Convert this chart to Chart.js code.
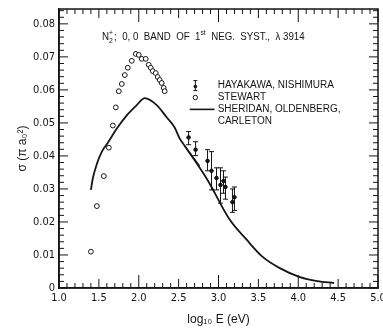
<!DOCTYPE html>
<html>
<head>
<meta charset="utf-8">
<script src="https://cdn.jsdelivr.net/npm/chart.js@4/dist/chart.umd.min.js"></script>
<style>
  html, body { margin: 0; padding: 0; background: #fff; }
  #wrap { width: 383px; height: 334px; }
</style>
</head>
<body>
<div id="wrap"><canvas id="chart" width="383" height="334"></canvas></div>
<script>
// tick labels
const xTickLabels = ["1.0", "1.5", "2.0", "2.5", "3.0", "3.5", "4.0", "4.5", "5.0"];
const yTickLabels = ["0", "0.01", "0.02", "0.03", "0.04", "0.05", "0.06", "0.07", "0.08"];

// Stewart (open circles)
const stewartX = [1.40, 1.475, 1.5625, 1.625, 1.675, 1.7125, 1.75, 1.7875, 1.825, 1.8625, 1.9125, 1.9625,
  2.00, 2.0375, 2.0875, 2.125, 2.15, 2.175, 2.2125, 2.2375, 2.2625, 2.2875, 2.3125, 2.325];
const stewartY = [0.0110, 0.0248, 0.0339, 0.0425, 0.0492, 0.0547, 0.0596, 0.0618, 0.0645, 0.0667, 0.0688, 0.0709,
  0.0706, 0.0694, 0.0694, 0.0676, 0.0667, 0.0657, 0.0651, 0.0639, 0.0630, 0.0621, 0.0606, 0.0596];

// Sheridan, Oldenberg, Carleton (solid curve)
const sheridanX = [1.40, 1.425, 1.475, 1.5375, 1.6125, 1.725, 1.85, 1.975, 2.075, 2.225, 2.35, 2.45, 2.5125,
  2.575, 2.8625, 3.1375, 3.35, 3.55, 3.7625, 4.0125, 4.2375, 4.45];
const sheridanY = [0.0297, 0.0333, 0.0376, 0.0413, 0.0440, 0.0483, 0.0523, 0.0554, 0.0575, 0.0554, 0.0517, 0.0486, 0.0453,
  0.0431, 0.0327, 0.0208, 0.0147, 0.0095, 0.0061, 0.0034, 0.0021, 0.0015];
// short side branch of the same curve
const branchX = [2.575, 2.7625];
const branchY = [0.0431, 0.0370];

// Hayakawa, Nishimura (points with error bars)
const hayX = [2.625, 2.7125, 2.8625, 2.9125, 2.975, 3.025, 3.0625, 3.0875, 3.175, 3.20];
const hayY = [0.0456, 0.0419, 0.0385, 0.0355, 0.0333, 0.0312, 0.0324, 0.0306, 0.0260, 0.0275];
const hayHi = [0.0474, 0.0443, 0.0419, 0.0413, 0.0364, 0.0364, 0.0355, 0.0336, 0.0300, 0.0306];
const hayLo = [0.0434, 0.0401, 0.0355, 0.0297, 0.0297, 0.0257, 0.0287, 0.0269, 0.0229, 0.0235];

const pts = (xs, ys) => xs.map((v, i) => ({ x: v, y: ys[i] }));
const INK = "#151515";
const TEXT_FONT = "Liberation Sans, Arial, sans-serif";
const TICK_FONT = "'Liberation Sans Narrow', 'DejaVu Sans Condensed', sans-serif";

// draws the inward tick marks, frame, error bars, title and legend
const decor = {
  id: "decor",
  afterDatasetsDraw(chart) {
    const { ctx, chartArea: a, scales: { x, y } } = chart;
    const seg = (x1, y1, x2, y2) => { ctx.beginPath(); ctx.moveTo(x1, y1); ctx.lineTo(x2, y2); ctx.stroke(); };
    ctx.save();
    ctx.strokeStyle = INK;

    // error bars
    ctx.lineWidth = 1;
    hayX.forEach((v, i) => {
      const px = x.getPixelForValue(v);
      const t = y.getPixelForValue(hayHi[i]);
      const b = y.getPixelForValue(hayLo[i]);
      seg(px, t, px, b);
      seg(px - 2.5, t, px + 2.5, t);
      seg(px - 2.5, b, px + 2.5, b);
    });

    // frame
    ctx.lineWidth = 1.5;
    ctx.strokeRect(a.left, a.top, a.right - a.left, a.bottom - a.top);

    // x ticks, bottom and top, pointing inward
    ctx.lineWidth = 1;
    for (let i = 10; i <= 50; i++) {
      const px = x.getPixelForValue(i / 10);
      const len = i % 10 === 0 ? 13 : (i % 5 === 0 ? 9 : 5);
      seg(px, a.bottom, px, a.bottom - len);
      seg(px, a.top, px, a.top + len);
    }
    // y ticks, left and right
    for (let i = 0; i <= 42; i++) {
      const py = y.getPixelForValue(i * 0.002);
      const len = i % 5 === 0 ? 9 : 5;
      seg(a.left, py, a.left + len, py);
      seg(a.right, py, a.right - len, py);
    }

    // title inside the plot
    ctx.fillStyle = INK;
    ctx.textBaseline = "alphabetic";
    const ty = y.getPixelForValue(0.0762) + 4;
    const tx0 = x.getPixelForValue(1.54);
    const tx1 = x.getPixelForValue(4.08);
    const big = "10px " + TEXT_FONT, small = "7px " + TEXT_FONT;
    const parts = [
      { t: "N", f: big, dy: 0 },
      { t: "+", f: small, dy: -5, stack: "2" },
      { t: ";  0, 0  BAND  OF  1", f: big, dy: 0 },
      { t: "st", f: small, dy: -5 },
      { t: "  NEG.  SYST.,  \u03bb 3914", f: big, dy: 0 }
    ];
    let w = 0;
    parts.forEach(p => { ctx.font = p.f; p.w = ctx.measureText(p.t).width + (p.stack ? 1 : 0); w += p.w; });
    const sx = (tx1 - tx0) / w;
    ctx.save();
    ctx.translate(tx0, ty);
    ctx.scale(sx, 1);
    let cx = 0;
    parts.forEach(p => {
      ctx.font = p.f;
      ctx.fillText(p.t, cx, p.dy);
      if (p.stack) ctx.fillText(p.stack, cx, 3);
      cx += p.w;
    });
    ctx.restore();

    // legend
    ctx.font = "10px " + TEXT_FONT;
    ctx.textBaseline = "middle";
    const sxp = x.getPixelForValue(2.71);
    const txp = x.getPixelForValue(2.99);
    const rows = [0.0613, 0.0577, 0.0541, 0.0505].map(v => y.getPixelForValue(v));
    // error bar symbol
    seg(sxp, rows[0] - 5, sxp, rows[0] + 5);
    seg(sxp - 2, rows[0] - 5, sxp + 2, rows[0] - 5);
    seg(sxp - 2, rows[0] + 5, sxp + 2, rows[0] + 5);
    ctx.beginPath(); ctx.arc(sxp, rows[0] + 1, 1.8, 0, Math.PI * 2); ctx.fill();
    ctx.fillText("HAYAKAWA, NISHIMURA", txp, rows[0]);
    // circle symbol
    ctx.beginPath(); ctx.arc(sxp, rows[1], 2.2, 0, Math.PI * 2); ctx.stroke();
    ctx.fillText("STEWART", txp, rows[1]);
    // line symbol
    ctx.lineWidth = 1.6;
    seg(x.getPixelForValue(2.64), rows[2], x.getPixelForValue(2.95), rows[2]);
    ctx.fillText("SHERIDAN, OLDENBERG,", txp, rows[2]);
    ctx.fillText("CARLETON", txp, rows[3]);
    ctx.restore();
  }
};

new Chart(document.getElementById("chart"), {
  type: "scatter",
  data: {
    datasets: [
      {
        label: "SHERIDAN, OLDENBERG, CARLETON",
        data: pts(sheridanX, sheridanY),
        showLine: true,
        borderColor: INK,
        borderWidth: 1.8,
        pointRadius: 0,
        tension: 0.25,
        cubicInterpolationMode: "monotone"
      },
      {
        label: "branch",
        data: pts(branchX, branchY),
        showLine: true,
        borderColor: INK,
        borderWidth: 1.2,
        pointRadius: 0
      },
      {
        label: "STEWART",
        data: pts(stewartX, stewartY),
        pointStyle: "circle",
        pointRadius: 2.4,
        pointBackgroundColor: "#fff",
        pointBorderColor: INK,
        pointBorderWidth: 1
      },
      {
        label: "HAYAKAWA, NISHIMURA",
        data: pts(hayX, hayY),
        pointStyle: "circle",
        pointRadius: 1.8,
        pointBackgroundColor: INK,
        pointBorderColor: INK,
        pointBorderWidth: 1
      }
    ]
  },
  options: {
    responsive: false,
    animation: false,
    devicePixelRatio: 1,
    layout: { padding: { top: 9, right: 3, left: 0, bottom: 0 } },
    plugins: { legend: { display: false }, tooltip: { enabled: false } },
    scales: {
      x: {
        type: "linear",
        min: 1,
        max: 5,
        grid: { display: false, drawTicks: false },
        border: { display: true, color: INK, width: 1.5 },
        ticks: {
          stepSize: 0.5,
          autoSkip: false,
          maxRotation: 0,
          padding: 4,
          color: INK,
          font: { family: TICK_FONT, size: 11 },
          callback: (v) => xTickLabels[Math.round((v - 1) * 2)] ?? ""
        },
        title: {
          display: true,
          text: "log\u2081\u2080 E (eV)",
          color: INK,
          font: { family: TEXT_FONT, size: 12 },
          padding: { top: 4, bottom: 7 }
        },
        afterFit: (s) => { s.height = 46; s.paddingLeft = 0; s.paddingRight = 0; }
      },
      y: {
        type: "linear",
        min: 0,
        max: 0.0845,
        grid: { display: false, drawTicks: false },
        border: { display: true, color: INK, width: 1.5 },
        afterBuildTicks: (s) => { s.ticks = s.ticks.filter(t => t.value < 0.0805); },
        ticks: {
          stepSize: 0.01,
          padding: 4,
          color: INK,
          font: { family: TICK_FONT, size: 11 },
          callback: (v) => yTickLabels[Math.round(v * 100)] ?? ""
        },
        title: {
          display: true,
          text: "\u03c3 (\u03c0 a\u2080\u00b2)",
          color: INK,
          font: { family: TEXT_FONT, size: 12 },
          padding: { top: 15, bottom: 0 }
        },
        afterFit: (s) => { s.width = 59; s.paddingTop = 0; s.paddingBottom = 0; }
      }
    }
  },
  plugins: [decor]
});
</script>
</body>
</html>
